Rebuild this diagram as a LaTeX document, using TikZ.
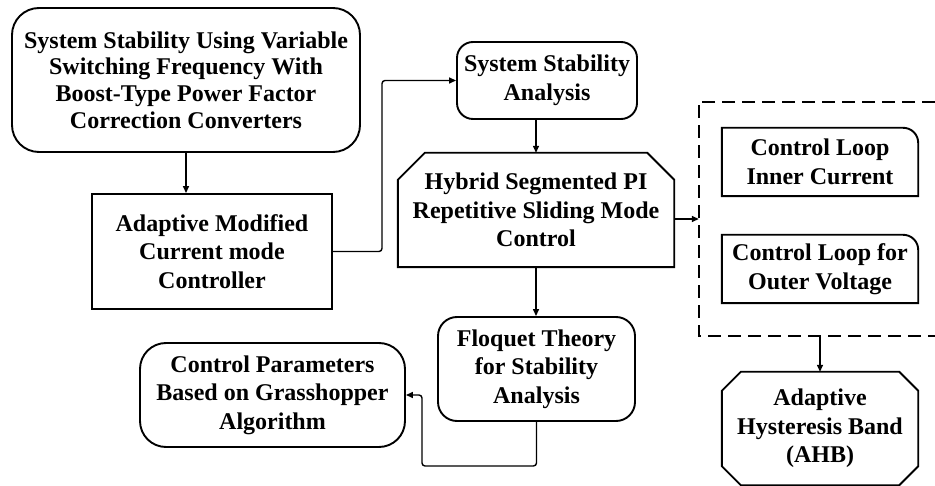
\documentclass[tikz,border=0pt]{standalone}
\usepackage{fontspec}
\setmainfont{Liberation Serif}
\usetikzlibrary{arrows.meta}

\begin{document}
\begin{tikzpicture}[x=1pt,y=-1pt,
  frame/.style={line width=1.9pt},
  txt/.style={font=\bfseries\fontsize{24}{28.5}\selectfont, align=center, inner sep=0pt},
  rbox/.style n args={3}{txt, draw, frame, rounded corners=#3,
    minimum width=#1, minimum height=#2},
  sbox/.style 2 args={txt, draw, frame, minimum width=#1, minimum height=#2},
  tbox/.style 2 args={txt, minimum width=#1, minimum height=#2},
  conn/.style={line width=1.4pt, -{Triangle[length=7pt,width=6pt]}},
  dashbox/.style={line width=1.7pt, dash pattern=on 13pt off 7pt}]

\useasboundingbox (0,0) rectangle (935,486);

% blocks
\node[rbox={348pt}{144pt}{27pt}, font=\bfseries\fontsize{24}{26.7}\selectfont] (top) at (186,80)
  {System Stability Using Variable\\Switching Frequency With\\Boost-Type Power Factor\\Correction Converters};
\node[sbox={240pt}{115pt}] (amc) at (212,251.5) {Adaptive Modified\\Current mode\\Controller};
\node[rbox={180pt}{77pt}{16pt}] (ssa) at (547,80.5) {System Stability\\Analysis};
\node[tbox={276pt}{114pt}] (hyb) at (536,210) {Hybrid Segmented PI\\Repetitive Sliding Mode\\Control};
\node[tbox={236pt}{234pt}] (grp) at (817,219) {};
\node[tbox={196pt}{68pt}] (cli) at (820,162) {Control Loop\\Inner Current};
\node[tbox={196pt}{68pt}] (clo) at (820,269) {Control Loop for\\Outer Voltage};
\node[tbox={196pt}{113pt}] (ahb) at (820,428.5) {Adaptive\\Hysteresis Band\\(AHB)};
\node[rbox={197pt}{104pt}{19pt}] (flo) at (536.5,369) {Floquet Theory\\for Stability\\Analysis};
\node[rbox={265pt}{104pt}{26pt}] (cp) at (272.5,395) {Control Parameters\\Based on Grasshopper\\Algorithm};

% outlines with cut or rounded corners
\draw[frame] (hyb.south west) -- ([yshift=-27pt]hyb.north west) -- ([xshift=27pt]hyb.north west)
  -- ([xshift=-27pt]hyb.north east) -- ([yshift=-27pt]hyb.north east) -- (hyb.south east) -- cycle;
\draw[frame] ([xshift=19pt]ahb.north west) -- ([xshift=-19pt]ahb.north east) -- ([yshift=-19pt]ahb.north east)
  -- ([yshift=19pt]ahb.south east) -- ([xshift=-19pt]ahb.south east) -- ([xshift=19pt]ahb.south west)
  -- ([yshift=19pt]ahb.south west) -- ([yshift=-19pt]ahb.north west) -- cycle;
\foreach \n in {cli,clo}{
  \draw[frame] (\n.south west) -- (\n.north west) -- ([xshift=-15pt]\n.north east)
    arc[start angle=90,end angle=0,radius=15pt] -- (\n.south east) -- cycle;
}
\draw[dashbox] (grp.north east) -- (grp.north west) -- (grp.south west) -- (grp.south east);

% connectors
\coordinate (j1) at (382,0);
\coordinate (j2) at (422,466);
\draw[conn] (top.south) -- (top.south |- amc.north);
\draw[conn, rounded corners=3pt] (amc.east) -| (j1 |- ssa.west) -- (ssa.west);
\draw[conn] (hyb.north |- ssa.south) -- (hyb.north);
\draw[conn] (hyb.east |- grp.west) -- (grp.west);
\draw[conn] (hyb.south) -- (hyb.south |- flo.north);
\draw[conn, rounded corners=3pt] (flo.south) |- (j2) |- (cp.east);
\draw[conn] (ahb.north |- grp.south) -- (ahb.north);
\end{tikzpicture}
\end{document}
